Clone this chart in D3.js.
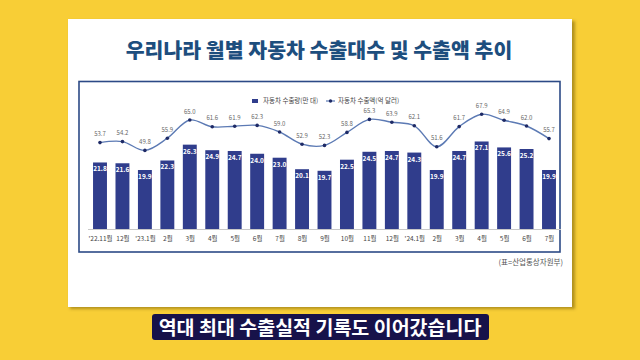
<!DOCTYPE html>
<html><head><meta charset="utf-8">
<script src="https://cdn.jsdelivr.net/npm/d3@7/dist/d3.min.js"></script>
<style>html,body{margin:0;padding:0;background:#F8CE36;}svg{display:block;font-family:"Noto Sans CJK KR","Noto Sans",sans-serif;}</style>
</head><body>
<svg id="c" width="640" height="360"></svg>
<script>
const categories = ["'22.11월","12월","'23.1월","2월","3월","4월","5월","6월","7월","8월","9월","10월","11월","12월","'24.1월","2월","3월","4월","5월","6월","7월"];
const exportUnits = [21.8,21.6,19.9,22.3,26.3,24.9,24.7,24.0,23.0,20.1,19.7,22.5,24.5,24.7,24.3,19.9,24.7,27.1,25.6,25.2,19.9];
const exportValue = [53.7,54.2,49.8,55.9,65.0,61.6,61.9,62.3,59.0,52.9,52.3,58.8,65.3,63.9,62.1,51.6,61.7,67.9,64.9,62.0,55.7];
const seriesNames = ["자동차 수출량(만 대)","자동차 수출액(억 달러)"];
const titleText = "우리나라 월별 자동차 수출대수 및 수출액 추이";
const sourceText = "(표=산업통상자원부)";
const captionText = "역대 최대 수출실적 기록도 이어갔습니다";

const svg = d3.select("#c");
const defs = svg.append("defs");
const f = defs.append("filter").attr("id","sh").attr("x","-5%").attr("y","-5%").attr("width","110%").attr("height","115%");
f.append("feGaussianBlur").attr("stdDeviation",1.5);

// card
svg.append("rect").attr("x",70).attr("y",21).attr("width",505).attr("height",288).attr("fill","rgba(90,70,0,0.45)").attr("filter","url(#sh)");
svg.append("rect").attr("x",68).attr("y",19).attr("width",504).attr("height",288).attr("fill","#fff");

svg.append("text").attr("x",319).attr("y",58).attr("text-anchor","middle")
  .attr("font-size",20.5).attr("font-weight",900).attr("fill","#1D4E7E").text(titleText);

// frame
svg.append("rect").attr("x",79).attr("y",81.5).attr("width",481).attr("height",170.5)
  .attr("fill","none").attr("stroke","#2C4A86").attr("stroke-width",1.6);

const x = d3.scalePoint().domain(d3.range(categories.length)).range([100,549]);
const bw = x.step()*0.62;
const yBar = d3.scaleLinear().domain([5,30]).range([229,130]);
const yLine = d3.scaleLinear().domain([0,80]).range([250,90]);

// baseline
svg.append("line").attr("x1",88).attr("x2",561).attr("y1",229.5).attr("y2",229.5).attr("stroke","#c8c8c8").attr("stroke-width",1);

const g = svg.append("g");
g.selectAll("rect.bar").data(exportUnits).join("rect").attr("class","bar")
  .attr("x",(d,i)=>x(i)-bw/2).attr("width",bw)
  .attr("y",d=>yBar(d)).attr("height",d=>yBar(5)-yBar(d))
  .attr("fill","#303D8C");
g.selectAll("text.bl").data(exportUnits).join("text").attr("class","bl")
  .attr("x",(d,i)=>x(i)).attr("y",d=>yBar(d)+9).attr("text-anchor","middle")
  .attr("font-size",6.5).attr("font-weight",700).attr("fill","#fff").text(d=>d.toFixed(1));

const line = d3.line().x((d,i)=>x(i)).y(d=>yLine(d)).curve(d3.curveCatmullRom.alpha(0.5));
g.append("path").datum(exportValue).attr("d",line).attr("fill","none").attr("stroke","#5C7AB4").attr("stroke-width",1.4);
g.selectAll("circle.pt").data(exportValue).join("circle").attr("class","pt")
  .attr("cx",(d,i)=>x(i)).attr("cy",d=>yLine(d)).attr("r",1.8).attr("fill","#1E2A66");
g.selectAll("text.ll").data(exportValue).join("text").attr("class","ll")
  .attr("x",(d,i)=>x(i)).attr("y",d=>yLine(d)-6.5).attr("text-anchor","middle")
  .attr("font-size",6).attr("fill","#666").text(d=>d.toFixed(1));

// x axis labels
const xa = d3.axisBottom(x).tickSize(0).tickFormat(i=>categories[i]);
const ax = svg.append("g").attr("transform","translate(0,233)").call(xa);
ax.select(".domain").remove();
ax.selectAll("text").attr("font-size",6.5).attr("fill","#444").attr("font-family","'Noto Sans CJK KR',sans-serif");

// legend
const lg = svg.append("g");
lg.append("rect").attr("x",252).attr("y",99).attr("width",6).attr("height",4).attr("fill","#303D8C");
lg.append("text").attr("x",263).attr("y",103.2).attr("font-size",6.5).attr("fill","#444").text(seriesNames[0]);
lg.append("line").attr("x1",326).attr("x2",335).attr("y1",101).attr("y2",101).attr("stroke","#5C7AB4").attr("stroke-width",1.2);
lg.append("circle").attr("cx",330.5).attr("cy",101).attr("r",1.7).attr("fill","#1E2A66");
lg.append("text").attr("x",338).attr("y",103.2).attr("font-size",6.5).attr("fill","#444").text(seriesNames[1]);

svg.append("text").attr("x",563).attr("y",265).attr("text-anchor","end").attr("font-size",7.5).attr("fill","#555").text(sourceText);

// caption
svg.append("rect").attr("x",152).attr("y",314).attr("width",337).attr("height",26).attr("rx",3).attr("fill","#17124A");
svg.append("text").attr("x",320).attr("y",334.5).attr("text-anchor","middle").attr("font-size",19.5).attr("font-weight",700).attr("fill","#fff").text(captionText);
</script>
</body></html>
